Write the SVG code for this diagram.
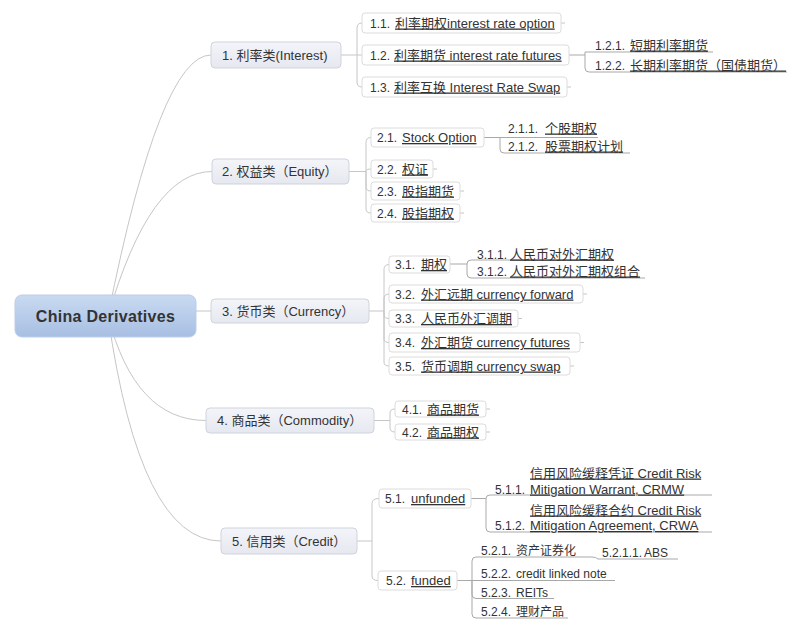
<svg xmlns="http://www.w3.org/2000/svg" width="804" height="632" viewBox="0 0 804 632">
<defs>
<linearGradient id="rootG" x1="0" y1="0" x2="0" y2="1">
<stop offset="0" stop-color="#c9daf1"/>
<stop offset="1" stop-color="#a8bfe3"/>
</linearGradient>
<linearGradient id="l1G" x1="0" y1="0" x2="0" y2="1">
<stop offset="0" stop-color="#f4f5f9"/>
<stop offset="1" stop-color="#e6e8f0"/>
</linearGradient>
</defs>
<style>
text{font-family:"Liberation Sans","Noto Sans CJK SC",sans-serif;fill:#333}
.root{font-size:16px;font-weight:bold;letter-spacing:0.3px}
.t1{font-size:13px}
.t2{font-size:13px}
.t3{font-size:12px}
.p{font-size:12px}
.u{text-decoration:underline}
.l1{fill:url(#l1G);stroke:#d0d3dd;stroke-width:1}
.l2{fill:#fff;stroke:#dcdcdc;stroke-width:1}
.c{fill:none;stroke:#c6c6c6;stroke-width:1}
.lf{fill:none;stroke:#a9a9a9;stroke-width:1}
</style>
<rect width="804" height="632" fill="#fff"/>
<g id="connectors">
<path class="c" d="M108,316 Q160,55 211,55"/>
<path class="c" d="M108,316 Q150,171.5 212,171.5"/>
<path class="c" d="M150,311 H211"/>
<path class="c" d="M108,316 Q135,420.5 206,420.5"/>
<path class="c" d="M108,316 Q140,541 221,541"/>
<path class="c" d="M341,55 H362 M357,55 V28 Q357,23 362,23 M357,55 V82 Q357,87 362,87"/>
<path class="c" d="M349,171.5 H366 M366,171.5 V142.5 Q366,137.5 371,137.5 M366,171.5 Q366,169 371,169 M366,171.5 V187 Q366,191 371,191 M366,171.5 V209 Q366,213 371,213"/>
<path class="c" d="M369,311 H384 M384,311 V269.5 Q384,264.5 389,264.5 M384,311 V299 Q384,294 389,294 M384,311 V314.5 Q384,318.5 389,318.5 M384,311 V338.5 Q384,342.5 389,342.5 M384,311 V362 Q384,366 389,366"/>
<path class="c" d="M374,420.5 H390 V413 Q390,409 395,409 M390,420.5 V428 Q390,432 395,432"/>
<path class="c" d="M357,541 H372 V503.5 Q372,498.5 379,498.5 M372,541 V576 Q372,580.5 378,580.5"/>
<path class="c" d="M561,23 h4 M567,87 h4 M433,169 h4 M460,191 h4 M460,213 h4 M583,294 h4 M518,318.5 h4 M580,342.5 h4 M570,366 h4 M486,409 h4 M486,432 h4"/>
<path class="lf" d="M569,55 H585 M585,55 V52 H713 M585,55 V68 Q585,72 589,72 H787"/>
<path class="lf" d="M484,137.5 H598 M500,137.5 V149 Q500,153 504,153 H630"/>
<path class="lf" d="M450,264 H467 M467,264 Q467,260 471,260 H613 M467,264 V274 Q467,278 471,278 H645"/>
<path class="lf" d="M471,498.5 H486 M486,498.5 Q486,495 490,495 H712 M486,498.5 V528 Q486,532 490,532 H712"/>
<path class="lf" d="M457,580.5 H615 M472,580.5 V561 Q472,557 476,557 H592 Q596,557 598,559 H678 M472,580.5 V594.5 Q472,598.5 476,598.5 H554 M472,580.5 V614 Q472,618 476,618 H568"/>
</g>
<g id="root">
<rect x="15" y="295" width="181" height="42" rx="7" fill="url(#rootG)" stroke="#bccde6"/>
<text class="root" x="105.5" y="322" text-anchor="middle">China Derivatives</text>
</g>
<g id="n1"><rect class="l1" x="211" y="42" width="130" height="26" rx="4"/><text class="t1" x="222" y="59.5">1. 利率类(Interest)</text></g>
<g id="n2"><rect class="l1" x="212" y="159" width="137" height="25" rx="4"/><text class="t1" x="222" y="176">2. 权益类（Equity）</text></g>
<g id="n3"><rect class="l1" x="211" y="299" width="158" height="24" rx="4"/><text class="t1" x="222" y="315.5">3. 货币类（Currency）</text></g>
<g id="n4"><rect class="l1" x="206" y="408" width="168" height="25" rx="4"/><text class="t1" x="217" y="425">4. 商品类（Commodity）</text></g>
<g id="n5"><rect class="l1" x="221" y="528" width="136" height="26" rx="4"/><text class="t1" x="232" y="545.5">5. 信用类（Credit）</text></g>
<g id="n1-1"><rect class="l2" x="362" y="13" width="199" height="20" rx="3"/><text class="t2" y="27.5"><tspan class="p" x="370">1.1.</tspan><tspan class="u" x="395">利率期权interest rate option</tspan></text></g>
<g id="n1-2"><rect class="l2" x="362" y="45" width="207" height="20" rx="3"/><text class="t2" y="59.5"><tspan class="p" x="370">1.2.</tspan><tspan class="u" x="394">利率期货 interest rate futures</tspan></text></g>
<g id="n1-3"><rect class="l2" x="362" y="77" width="205" height="20" rx="3"/><text class="t2" y="91.5"><tspan class="p" x="370">1.3.</tspan><tspan class="u" x="394">利率互换 Interest Rate Swap</tspan></text></g>
<g id="n1-2-1"><text class="t2" y="49.5"><tspan class="p" x="595">1.2.1.</tspan><tspan class="u" x="630">短期利率期货</tspan></text></g>
<g id="n1-2-2"><text class="t2" y="69.5"><tspan class="p" x="595">1.2.2.</tspan><tspan class="u" x="630">长期利率期货（国债期货）</tspan></text></g>
<g id="n2-1"><rect class="l2" x="371" y="128" width="113" height="19" rx="3"/><text class="t2" y="142"><tspan class="p" x="377">2.1.</tspan><tspan class="u" x="402">Stock Option</tspan></text></g>
<g id="n2-2"><rect class="l2" x="371" y="160" width="62" height="18" rx="3"/><text class="t2" y="173.5"><tspan class="p" x="377">2.2.</tspan><tspan class="u" x="402">权证</tspan></text></g>
<g id="n2-3"><rect class="l2" x="371" y="182" width="89" height="18" rx="3"/><text class="t2" y="195.5"><tspan class="p" x="377">2.3.</tspan><tspan class="u" x="402">股指期货</tspan></text></g>
<g id="n2-4"><rect class="l2" x="371" y="204" width="89" height="18" rx="3"/><text class="t2" y="217.5"><tspan class="p" x="377">2.4.</tspan><tspan class="u" x="402">股指期权</tspan></text></g>
<g id="n2-1-1"><text class="t2" y="132.5"><tspan class="p" x="508">2.1.1.</tspan><tspan class="u" x="545">个股期权</tspan></text></g>
<g id="n2-1-2"><text class="t2" y="150.5"><tspan class="p" x="508">2.1.2.</tspan><tspan class="u" x="545">股票期权计划</tspan></text></g>
<g id="n3-1"><rect class="l2" x="389" y="256" width="61" height="17" rx="3"/><text class="t2" y="269"><tspan class="p" x="395">3.1.</tspan><tspan class="u" x="421">期权</tspan></text></g>
<g id="n3-2"><rect class="l2" x="389" y="285" width="194" height="18" rx="3"/><text class="t2" y="298.5"><tspan class="p" x="395">3.2.</tspan><tspan class="u" x="421">外汇远期 currency forward</tspan></text></g>
<g id="n3-3"><rect class="l2" x="389" y="310" width="129" height="17" rx="3"/><text class="t2" y="323"><tspan class="p" x="395">3.3.</tspan><tspan class="u" x="421">人民币外汇调期</tspan></text></g>
<g id="n3-4"><rect class="l2" x="389" y="333" width="191" height="19" rx="3"/><text class="t2" y="347"><tspan class="p" x="395">3.4.</tspan><tspan class="u" x="421">外汇期货 currency futures</tspan></text></g>
<g id="n3-5"><rect class="l2" x="389" y="357" width="181" height="18" rx="3"/><text class="t2" y="370.5"><tspan class="p" x="395">3.5.</tspan><tspan class="u" x="421">货币调期 currency swap</tspan></text></g>
<g id="n3-1-1"><text class="t2" y="258.5"><tspan class="p" x="477">3.1.1.</tspan><tspan class="u" x="510">人民币对外汇期权</tspan></text></g>
<g id="n3-1-2"><text class="t2" y="275.5"><tspan class="p" x="477">3.1.2.</tspan><tspan class="u" x="510">人民币对外汇期权组合</tspan></text></g>
<g id="n4-1"><rect class="l2" x="395" y="401" width="91" height="16" rx="3"/><text class="t2" y="413.5"><tspan class="p" x="402">4.1.</tspan><tspan class="u" x="427">商品期货</tspan></text></g>
<g id="n4-2"><rect class="l2" x="395" y="424" width="91" height="16" rx="3"/><text class="t2" y="436.5"><tspan class="p" x="402">4.2.</tspan><tspan class="u" x="427">商品期权</tspan></text></g>
<g id="n5-1"><rect class="l2" x="379" y="489" width="92" height="19" rx="3"/><text class="t2" y="503"><tspan class="p" x="385">5.1.</tspan><tspan class="u" x="411">unfunded</tspan></text></g>
<g id="n5-2"><rect class="l2" x="378" y="571" width="79" height="19" rx="3"/><text class="t2" y="585"><tspan class="p" x="386">5.2.</tspan><tspan class="u" x="411">funded</tspan></text></g>
<g id="n5-1-1"><text class="t2" y="477.5"><tspan class="u" x="530">信用风险缓释凭证 Credit Risk</tspan></text><text class="t2" y="493.5"><tspan class="p" x="495">5.1.1.</tspan><tspan class="u" x="530">Mitigation Warrant, CRMW</tspan></text></g>
<g id="n5-1-2"><text class="t2" y="514.5"><tspan class="u" x="530">信用风险缓释合约 Credit Risk</tspan></text><text class="t2" y="530"><tspan class="p" x="495">5.1.2.</tspan><tspan class="u" x="530">Mitigation Agreement, CRWA</tspan></text></g>
<g id="n5-2-1"><text class="t3" y="554.5"><tspan x="481">5.2.1.</tspan><tspan x="516">资产证券化</tspan></text></g>
<g id="n5-2-1-1"><text class="t3" y="557"><tspan x="602">5.2.1.1.</tspan><tspan x="644">ABS</tspan></text></g>
<g id="n5-2-2"><text class="t3" y="578"><tspan x="481">5.2.2.</tspan><tspan x="516">credit linked note</tspan></text></g>
<g id="n5-2-3"><text class="t3" y="597"><tspan x="481">5.2.3.</tspan><tspan x="516">REITs</tspan></text></g>
<g id="n5-2-4"><text class="t3" y="616"><tspan x="481">5.2.4.</tspan><tspan x="516">理财产品</tspan></text></g>
</svg>
